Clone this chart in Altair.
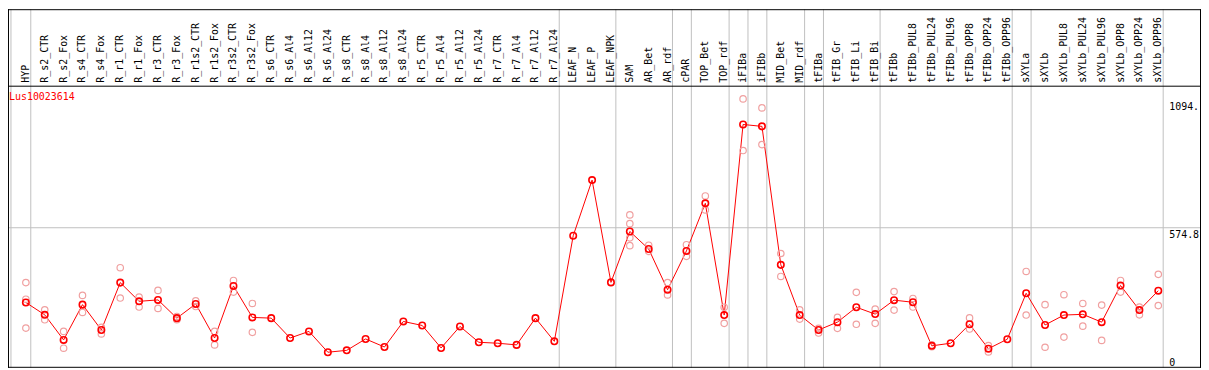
import altair as alt
import pandas as pd

categories = [
    "HYP", "R_s2_CTR", "R_s2_Fox", "R_s4_CTR", "R_s4_Fox", "R_r1_CTR", "R_r1_Fox",
    "R_r3_CTR", "R_r3_Fox", "R_r1s2_CTR", "R_r1s2_Fox", "R_r3s2_CTR", "R_r3s2_Fox",
    "R_s6_CTR", "R_s6_Al4", "R_s6_Al12", "R_s6_Al24", "R_s8_CTR", "R_s8_Al4",
    "R_s8_Al12", "R_s8_Al24", "R_r5_CTR", "R_r5_Al4", "R_r5_Al12", "R_r5_Al24",
    "R_r7_CTR", "R_r7_Al4", "R_r7_Al12", "R_r7_Al24", "LEAF_N", "LEAF_P", "LEAF_NPK",
    "SAM", "AR_Bet", "AR_rdf", "cPAR", "TOP_Bet", "TOP_rdf", "iFIBa", "iFIBb",
    "MID_Bet", "MID_rdf", "tFIBa", "tFIB_Gr", "tFIB_Li", "tFIB_Bi", "tFIBb",
    "tFIBb_PUL8", "tFIBb_PUL24", "tFIBb_PUL96", "tFIBb_OPP8", "tFIBb_OPP24",
    "tFIBb_OPP96", "sXYLa", "sXYLb", "sXYLb_PUL8", "sXYLb_PUL24", "sXYLb_PUL96",
    "sXYLb_OPP8", "sXYLb_OPP24", "sXYLb_OPP96",
]

means = [
    259, 207, 101, 250, 143, 343, 264, 270, 193, 253, 109, 329, 196,
    193, 109, 137, 49, 57, 105, 71, 179, 162, 67, 158, 91, 87, 80, 193, 95,
    541, 776, 344, 559, 485, 313, 477, 678, 206, 1011, 1003, 418, 206,
    143, 176, 239, 210, 269, 260, 76, 87, 167, 64, 104,
    298, 164, 206, 209, 176, 331, 227, 309,
]

N = None
rep_a = [
    343, 228, 137, 289, 154, 406, 282, 310, 200, 266, 137, 352, 255,
    N, N, N, N, N, N, N, N, N, N, N, N, N, N, N, N,
    N, N, N, 629, 501, 343, 503, 709, 239, 1119, 1081, 466, 228,
    150, 196, 302, 231, 305, 276, 80, N, 194, 77, N,
    390, 250, 292, 255, 248, 352, 240, 378,
]
rep_b = [
    273, 186, 66, 217, 126, 278, 240, 234, 186, 242, 80, 303, 133,
    N, N, N, N, N, N, N, N, N, N, N, N, N, N, N, N,
    N, N, N, 592, 475, 291, 454, 650, 171, 901, 926, 369, 189,
    130, 150, 167, 171, 227, 240, 72, N, 147, 50, N,
    206, 70, 113, 159, 99, 303, 207, 246,
]
rep_c = [151] + [N] * 31 + [532] + [N] * 28
rep_d = [N] * 32 + [499] + [N] * 28

separators_after = [
    "HYP", "R_r7_Al24", "LEAF_NPK", "AR_rdf", "cPAR", "TOP_rdf", "iFIBa", "iFIBb",
    "MID_rdf", "tFIBa", "tFIB_Bi", "tFIBb_OPP96", "sXYLa", "sXYLb_OPP96",
]

y_ticks = [0, 574.8, 1094]
y_tick_labels = ["0", "574.8", "1094."]
grid_values = [574.8]
title_text = "Lus10023614"

FONT = "DejaVu Sans Mono"
PW, PH = 1163, 284
TOP = 77

df = pd.DataFrame({"idx": list(range(len(categories))), "cat": categories, "mean": means})
rows = []
for rep in (rep_a, rep_b, rep_c, rep_d):
    for i, v in enumerate(rep):
        if v is not None:
            rows.append({"idx": i, "value": v})
rep_df = pd.DataFrame(rows)
sep_df = pd.DataFrame({"pos": [-0.79] + [categories.index(c) + 0.26 for c in separators_after]})
tick_df = pd.DataFrame({"v": y_ticks, "label": y_tick_labels})
grid_df = pd.DataFrame({"v": grid_values})

xs = alt.Scale(domain=[-0.947, 60.263], nice=False, zero=False)
ys = alt.Scale(domain=[-16.8, 1174.8], nice=False, zero=False)

base = alt.Chart(df)

seps = alt.Chart(sep_df).mark_rule(color="#c0c0c0", strokeWidth=1, clip=False).encode(
    x=alt.X("pos:Q", scale=xs, axis=None),
    y=alt.value(-TOP), y2=alt.value(PH),
)

grid = alt.Chart(grid_df).mark_rule(color="#c0c0c0", strokeWidth=1, clip=False).encode(
    y=alt.Y("v:Q", scale=ys, axis=None),
    x=alt.value(0), x2=alt.value(1200),
)

frame_h = alt.Chart(pd.DataFrame({"k": [-TOP + 0.5, 0.5, PH - 0.5]})).mark_rule(
    color="black", strokeWidth=1, clip=False
).encode(y=alt.Y("k:Q", scale=None), x=alt.value(0), x2=alt.value(1201))

frame_v = alt.Chart(pd.DataFrame({"k": [0.5, 1200.5]})).mark_rule(
    color="black", strokeWidth=1, clip=False
).encode(x=alt.X("k:Q", scale=None), y=alt.value(-TOP), y2=alt.value(PH))

line = base.mark_line(color="#ff0000", strokeWidth=1, clip=False).encode(
    x=alt.X("idx:Q", scale=xs, axis=None),
    y=alt.Y("mean:Q", scale=ys, axis=None),
)

reps = alt.Chart(rep_df).mark_point(
    shape="circle", filled=False, color="#f0a0a0", size=42, strokeWidth=1.2, opacity=1, clip=False
).encode(
    x=alt.X("idx:Q", scale=xs, axis=None),
    y=alt.Y("value:Q", scale=ys, axis=None),
)

mean_pts = base.mark_point(
    shape="circle", filled=False, color="#ff0000", size=42, strokeWidth=1.6, opacity=1, clip=False
).encode(
    x=alt.X("idx:Q", scale=xs, axis=None),
    y=alt.Y("mean:Q", scale=ys, axis=None),
)

cat_labels = base.mark_text(
    angle=270, align="left", baseline="middle", font=FONT, fontSize=10, color="black", clip=False
).encode(
    x=alt.X("idx:Q", scale=xs, axis=None),
    y=alt.value(-3),
    text="cat:N",
)

title = alt.Chart(pd.DataFrame({"t": [title_text]})).mark_text(
    align="left", baseline="middle", font=FONT, fontSize=10, color="#ff0000", clip=False
).encode(x=alt.value(1), y=alt.value(11), text="t:N")

def tick_layer(val, dy):
    return alt.Chart(tick_df[tick_df["v"] == val]).mark_text(
        align="left", baseline="middle", font=FONT, fontSize=10, color="black", dy=dy, clip=False
    ).encode(
        x=alt.value(1169),
        y=alt.Y("v:Q", scale=ys, axis=None),
        text="label:N",
    )

ticks = tick_layer(0, -1) + tick_layer(574.8, 7) + tick_layer(1094, 2)

chart = alt.layer(
    seps, grid, frame_h, frame_v, line, reps, mean_pts, cat_labels, title, ticks
).properties(
    width=PW, height=PH,
    padding={"left": 0, "top": TOP, "right": 38, "bottom": 1},
    autosize=alt.AutoSizeParams(type="none"),
).configure_view(stroke=None)

chart.save("out.html", embed_options={"renderer": "svg", "actions": False})
